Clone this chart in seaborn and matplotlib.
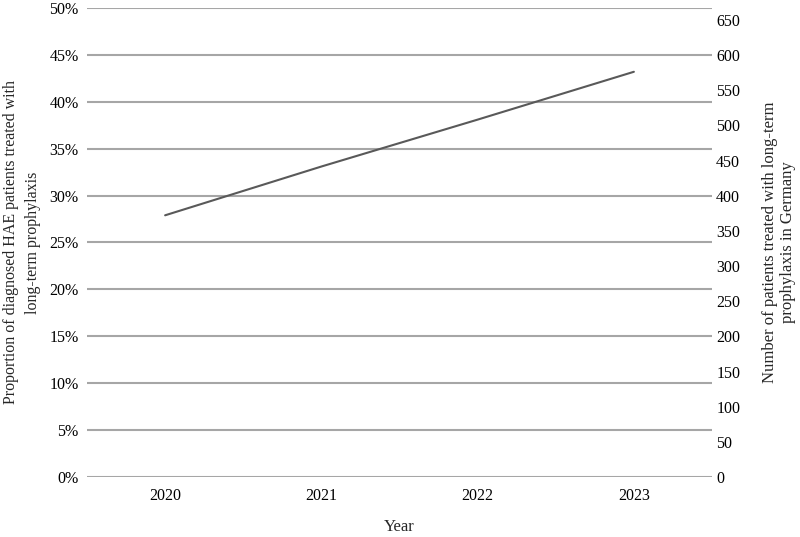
import pandas as pd
import numpy as np
import matplotlib.pyplot as plt
import seaborn as sns
from matplotlib.ticker import FuncFormatter, MultipleLocator

# data
years = ['2020', '2021', '2022', '2023']
share_ltp = [0.279, 0.331, 0.381, 0.432]   # proportion on LTP

sns.set_theme(style='white')
plt.rcParams['font.family'] = ['Liberation Serif', 'DejaVu Serif']

df = pd.DataFrame({'Year': years, 'Share': share_ltp})

fig = plt.figure(figsize=(8, 5.37), dpi=100)
ax = fig.add_axes([87 / 800, 1 - 477 / 537, (712 - 87) / 800, (477 - 8) / 537])

sns.lineplot(data=df, x='Year', y='Share', ax=ax, color='#595959', linewidth=1.5, sort=False)

ax.set_xlim(-0.5, 3.5)
ax.set_ylim(0, 0.5)
ax.yaxis.set_major_locator(MultipleLocator(0.05))
ax.yaxis.set_major_formatter(FuncFormatter(lambda v, p: f'{v * 100:.0f}%'))
ax.grid(axis='y', color='#a6a6a6', linewidth=1.5)
ax.set_axisbelow(True)
for s in ax.spines.values():
    s.set_visible(False)
ax.tick_params(axis='both', length=0, labelsize=11.5, colors='black')
ax.tick_params(axis='y', pad=6)
ax.tick_params(axis='x', pad=8)
ax.set_xlabel('Year', fontsize=12, labelpad=11)
ax.set_ylabel('Proportion of diagnosed HAE patients treated with\nlong-term prophylaxis', fontsize=11.5,
              labelpad=6, linespacing=1.5)

# right axis: number of patients
ax2 = ax.twinx()
ax2.set_ylim(0, 667)
ax2.yaxis.set_major_locator(MultipleLocator(50))
for s in ax2.spines.values():
    s.set_visible(False)
ax2.tick_params(axis='y', length=0, labelsize=11.5, colors='black', pad=3)
ax2.grid(False)
ax2.set_ylabel('Number of patients treated with long-term\nprophylaxis in Germany', fontsize=12,
               labelpad=16, linespacing=1.1)

fig.savefig('out.png', dpi=100)
